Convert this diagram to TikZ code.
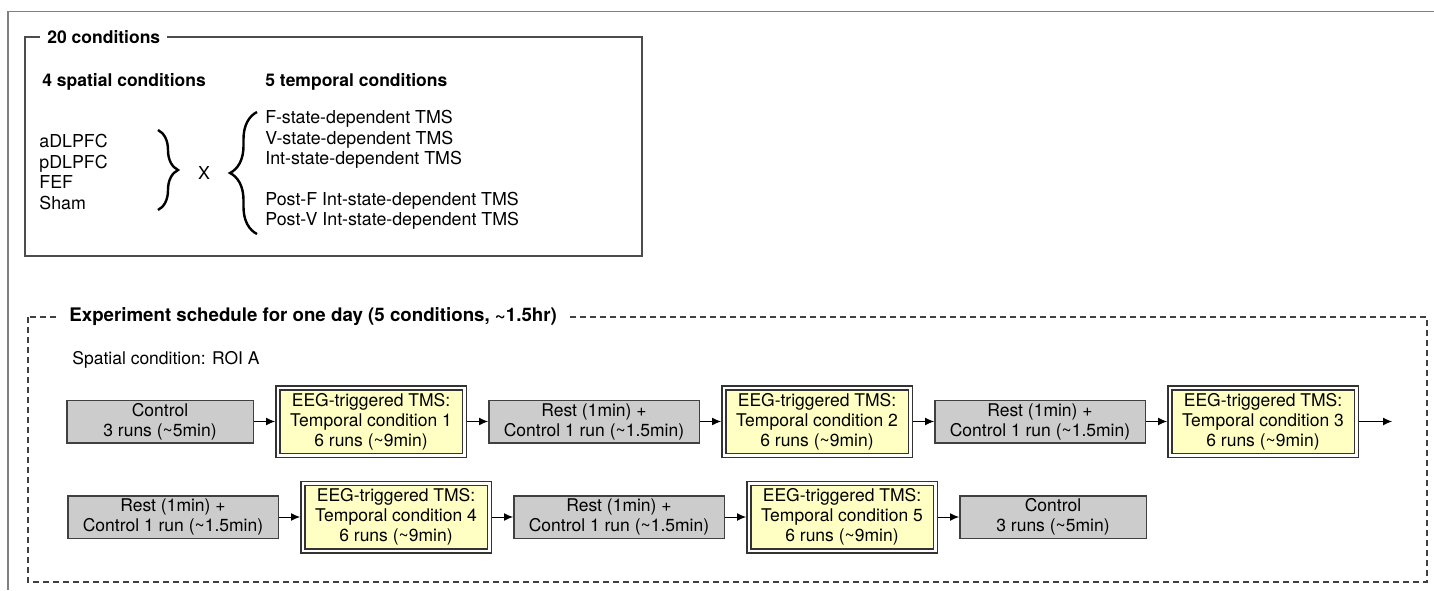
\documentclass[tikz,border=0pt]{standalone}
\usepackage{fontspec}
\setmainfont{TeX Gyre Heros}
\usetikzlibrary{positioning}
\usetikzlibrary{arrows.meta}
\usetikzlibrary{decorations.pathreplacing}
\definecolor{ctrlgrey}{HTML}{CCCCCC}
\definecolor{eegyellow}{HTML}{FFFFC4}

\begin{document}
\begin{tikzpicture}[x=0.5pt, y=-0.5pt, node distance=10.5pt,
  every node/.style = {font=\fontsize{8.75}{10}\selectfont, inner sep=0pt},
  head/.style = {font=\fontsize{8.75}{10}\selectfont\bfseries},
  list/.style = {font=\fontsize{8.9}{10.2}\selectfont, anchor=west, align=left},
  ctrl/.style = {draw=black!75, fill=ctrlgrey, line width=0.75pt, outer sep=0.375pt,
    minimum width=93.25pt, minimum height=21.25pt, align=center},
  rest/.style = {ctrl, minimum width=105.25pt},
  eeg/.style = {draw=black!80, fill=eegyellow, double, double distance=1.25pt,
    line width=0.75pt, outer sep=1.375pt,
    minimum width=93.25pt, minimum height=33.75pt, align=center},
  arr/.style = {-{Latex[length=4.5pt,width=4pt]}, line width=0.5pt},
  brace/.style = {decorate, decoration={brace, amplitude=10pt}, line width=1.2pt}]
  \useasboundingbox (0,0) rectangle (1434,590);
  % frames
  \draw[black!50, line width=0.75pt] (8,590) -- (8,11.7) -- (1434,11.7);
  \draw[black!70, line width=0.75pt] (25,37) rectangle (642,256);
  \draw[black!75, line width=0.6pt, dash pattern=on 3pt off 2pt] (28,317) rectangle (1427,582);
  \node[head, fill=white, inner xsep=3.5pt, anchor=west] (cond) at (40,37) {20 conditions};
  \node[head, font=\fontsize{9.35}{11}\selectfont\bfseries, fill=white, inner xsep=4.5pt,
    anchor=west] (sched) at (60,317)
    {Experiment schedule for one day (5 conditions, \textasciitilde1.5hr)};

  % 20 conditions
  \node[head, anchor=west] (sp) at (42,82) {4 spatial conditions};
  \node[head, anchor=west] (tp) at (265,82) {5 temporal conditions};
  \node[list] (roi) at (39,172) {aDLPFC\\pDLPFC\\FEF\\Sham};
  \node[list, anchor=center] (x) at (204,173) {X};
  \node[list] (tms) at (265,170) {F-state-dependent TMS\\V-state-dependent TMS\\
    Int-state-dependent TMS\\[10pt]Post-F Int-state-dependent TMS\\Post-V Int-state-dependent TMS};
  \draw[brace] (158,130) -- (158,210);
  \draw[brace, decoration={amplitude=13.5pt}] (257,234) -- (257,112);

  % schedule
  \node[anchor=west] (roiA) at (72,360) {Spatial condition: ROI A};
  \node[ctrl, anchor=west] (c1) at (66,421.5) {Control\\3 runs (\textasciitilde5min)};
  \node[eeg, right=of c1] (t1) {EEG-triggered TMS:\\Temporal condition 1\\6 runs (\textasciitilde9min)};
  \node[rest, right=of t1] (r1) {Rest (1min) +\\Control 1 run (\textasciitilde1.5min)};
  \node[eeg, right=of r1] (t2) {EEG-triggered TMS:\\Temporal condition 2\\6 runs (\textasciitilde9min)};
  \node[rest, right=of t2] (r2) {Rest (1min) +\\Control 1 run (\textasciitilde1.5min)};
  \node[eeg, right=of r2] (t3) {EEG-triggered TMS:\\Temporal condition 3\\6 runs (\textasciitilde9min)};
  \coordinate[right=16.5pt of t3] (out);

  \node[rest, anchor=west] (r3) at (67,517) {Rest (1min) +\\Control 1 run (\textasciitilde1.5min)};
  \node[eeg, right=of r3] (t4) {EEG-triggered TMS:\\Temporal condition 4\\6 runs (\textasciitilde9min)};
  \node[rest, right=of t4] (r4) {Rest (1min) +\\Control 1 run (\textasciitilde1.5min)};
  \node[eeg, right=of r4] (t5) {EEG-triggered TMS:\\Temporal condition 5\\6 runs (\textasciitilde9min)};
  \node[ctrl, right=of t5] (c2) {Control\\3 runs (\textasciitilde5min)};

  \draw[arr] (c1) -- (t1);
  \draw[arr] (t1) -- (r1);
  \draw[arr] (r1) -- (t2);
  \draw[arr] (t2) -- (r2);
  \draw[arr] (r2) -- (t3);
  \draw[arr] (t3) -- (out);
  \draw[arr] (r3) -- (t4);
  \draw[arr] (t4) -- (r4);
  \draw[arr] (r4) -- (t5);
  \draw[arr] (t5) -- (c2);
\end{tikzpicture}
\end{document}
